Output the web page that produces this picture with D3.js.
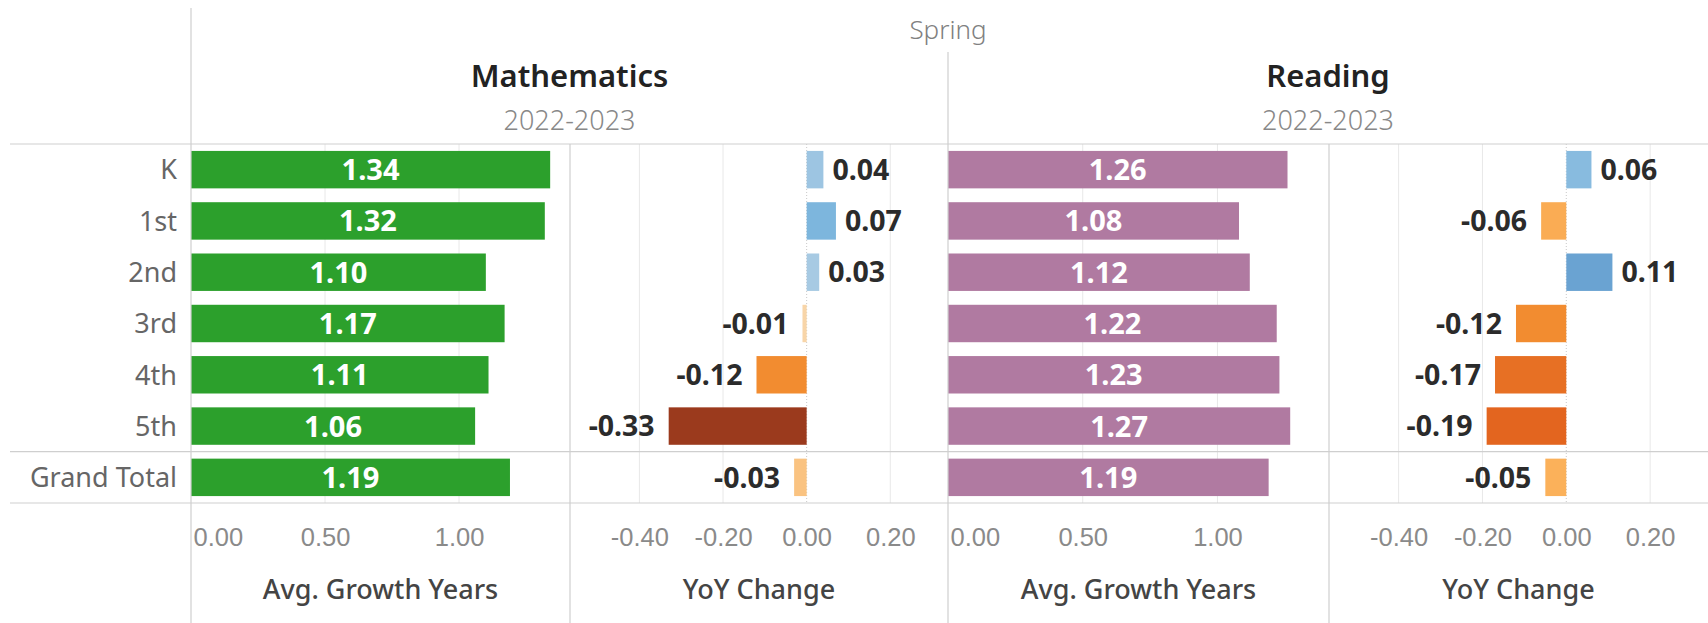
<!DOCTYPE html>
<html><head><meta charset="utf-8">
<script src="https://cdn.jsdelivr.net/npm/d3@7"></script>
<style>
html,body{margin:0;padding:0;background:#fff;}
svg{display:block;font-family:"Noto Sans","Open Sans",sans-serif;}
</style></head>
<body><svg id="c" width="1708" height="623"></svg>
<script>
// ---- data ----
const grades = ["K","1st","2nd","3rd","4th","5th","Grand Total"];
const mathGrowth = [1.34,1.32,1.10,1.17,1.11,1.06,1.19];
const mathYoY    = [0.04,0.07,0.03,-0.01,-0.12,-0.33,-0.03];
const readGrowth = [1.26,1.08,1.12,1.22,1.23,1.27,1.19];
const readYoY    = [0.06,-0.06,0.11,-0.12,-0.17,-0.19,-0.05];
const subjects = ["Mathematics","Reading"];
const season = "Spring";
const schoolYear = "2022-2023";
const growthTicks = [0,0.5,1.0];
const yoyTicks = [-0.4,-0.2,0,0.2];
const measureTitles = ["Avg. Growth Years","YoY Change"];

const svg = d3.select("#c");
const W = 1708, H = 623;
const rowTop = 144, rowBottom = 503;
const leftX = 191, midX = 948;
const paneEdges = [[leftX,570],[570,midX],[midX,1329],[1329,W]];

const y = d3.scaleBand().domain(grades).range([rowTop,rowBottom]).paddingInner(0.27).paddingOuter(0.135);
const rowBand = d3.scaleBand().domain(grades).range([rowTop,rowBottom]);

const growthDomain = [0,1.414];
const yoyDomain = [-0.566,0.338];

const negColor = d3.scaleLinear().domain([-0.33,-0.19,-0.12,-0.05,-0.01])
  .range(["#9b3a1d","#e3651f","#f28c30","#fbb15a","#f8d5a8"]);
const posColor = d3.scaleLinear().domain([0.03,0.07,0.11]).range(["#a7cae3","#7db6dd","#6aa3d2"]);
const yoyColor = v => v < 0 ? negColor(v) : posColor(v);

const gridC = "#e8e8e8", lineC = "#cfcfcf";

const panes = [
  {x: d3.scaleLinear().domain(growthDomain).range(paneEdges[0]), vals: mathGrowth, type:"g", color:"#2ca02c", ticks: growthTicks},
  {x: d3.scaleLinear().domain(yoyDomain).range(paneEdges[1]), vals: mathYoY, type:"y", ticks: yoyTicks},
  {x: d3.scaleLinear().domain(growthDomain).range(paneEdges[2]), vals: readGrowth, type:"g", color:"#b07aa1", ticks: growthTicks},
  {x: d3.scaleLinear().domain(yoyDomain).range(paneEdges[3]), vals: readYoY, type:"y", ticks: yoyTicks}
];

panes.forEach((p,i) => {
  const g = svg.append("g");
  g.selectAll("line.grid").data(p.ticks.filter(t => t !== 0)).join("line")
    .attr("x1", d => p.x(d)).attr("x2", d => p.x(d))
    .attr("y1", rowTop).attr("y2", rowBottom)
    .attr("stroke", gridC).attr("stroke-width", 1);
  if (p.type === "y") {
    g.append("line").attr("x1", p.x(0)).attr("x2", p.x(0)).attr("y1", rowTop).attr("y2", rowBottom)
      .attr("stroke", "#c8c8c8").attr("stroke-width",1).attr("stroke-dasharray","1,2");
  }
  g.selectAll("rect").data(p.vals).join("rect")
    .attr("x", d => Math.min(p.x(0), p.x(d)))
    .attr("width", d => Math.abs(p.x(d) - p.x(0)))
    .attr("y", (d,j) => y(grades[j]))
    .attr("height", y.bandwidth())
    .attr("fill", d => p.type === "g" ? p.color : yoyColor(d));
  g.selectAll("text.val").data(p.vals).join("text")
    .attr("class","val")
    .attr("x", d => p.type === "g" ? (p.x(0)+p.x(d))/2 : (d < 0 ? p.x(d) - 14 : p.x(d) + 9))
    .attr("y", (d,j) => y(grades[j]) + y.bandwidth()/2)
    .attr("dy","0.36em")
    .attr("text-anchor", d => p.type === "g" ? "middle" : (d < 0 ? "end" : "start"))
    .attr("font-size", p.type === "g" ? 29 : 28.5).attr("font-weight", 700)
    .attr("fill", p.type === "g" ? "#fff" : "#2b2b2b")
    .text(d => d.toFixed(2));
  const axis = d3.axisBottom(p.x).tickValues(p.ticks).tickFormat(d3.format(".2f")).tickSize(0).tickPadding(0);
  const ag = g.append("g").attr("transform", `translate(0,537)`).call(axis);
  ag.select(".domain").remove();
  ag.selectAll("text").attr("font-size",25.5).attr("font-weight",300).attr("fill","#8a8a8a")
    .attr("font-family","inherit").attr("dy","0.36em")
    .attr("text-anchor", d => (p.type === "g" && d === 0) ? "start" : "middle")
    .attr("dx", d => (p.type === "g" && d === 0) ? 2 : 0)
    .text(d => d3.format(".2f")(d).replace("−","-"));
  g.append("text").attr("x", (paneEdges[i][0]+paneEdges[i][1])/2).attr("y", 589)
    .attr("dy","0.36em").attr("text-anchor","middle")
    .attr("font-size",27).attr("font-weight",500).attr("fill","#444")
    .text(measureTitles[i % 2]);
});

svg.append("g").selectAll("text").data(grades).join("text")
  .attr("x", 177).attr("y", d => rowBand(d) + rowBand.bandwidth()/2)
  .attr("dy","0.36em").attr("text-anchor","end")
  .attr("font-size",27).attr("fill","#666").text(d => d);

const L = (x1,y1,x2,y2) => svg.append("line").attr("x1",x1).attr("y1",y1).attr("x2",x2).attr("y2",y2)
  .attr("stroke",lineC).attr("stroke-width",1.2);
L(10, rowTop, W, rowTop);
L(10, rowBand("Grand Total"), W, rowBand("Grand Total"));
L(10, rowBottom, W, rowBottom);
L(leftX, 8, leftX, H);
L(midX, 52, midX, H);
L(570, rowTop, 570, H);
L(1329, rowTop, 1329, H);

svg.append("text").attr("x", midX).attr("y", 30).attr("dy","0.36em").attr("text-anchor","middle")
  .attr("font-size",26).attr("font-weight",300).attr("fill","#808080").text(season);
const hdr = [[leftX,midX],[midX,W]];
subjects.forEach((s,i) => {
  const cx = (hdr[i][0]+hdr[i][1])/2;
  svg.append("text").attr("x",cx).attr("y",76).attr("dy","0.36em").attr("text-anchor","middle")
    .attr("font-size",31).attr("font-weight",600).attr("fill","#222").text(s);
  svg.append("text").attr("x",cx).attr("y",120).attr("dy","0.36em").attr("text-anchor","middle")
    .attr("font-size",27).attr("font-weight",300).attr("fill","#888").text(schoolYear);
});
</script></body></html>
